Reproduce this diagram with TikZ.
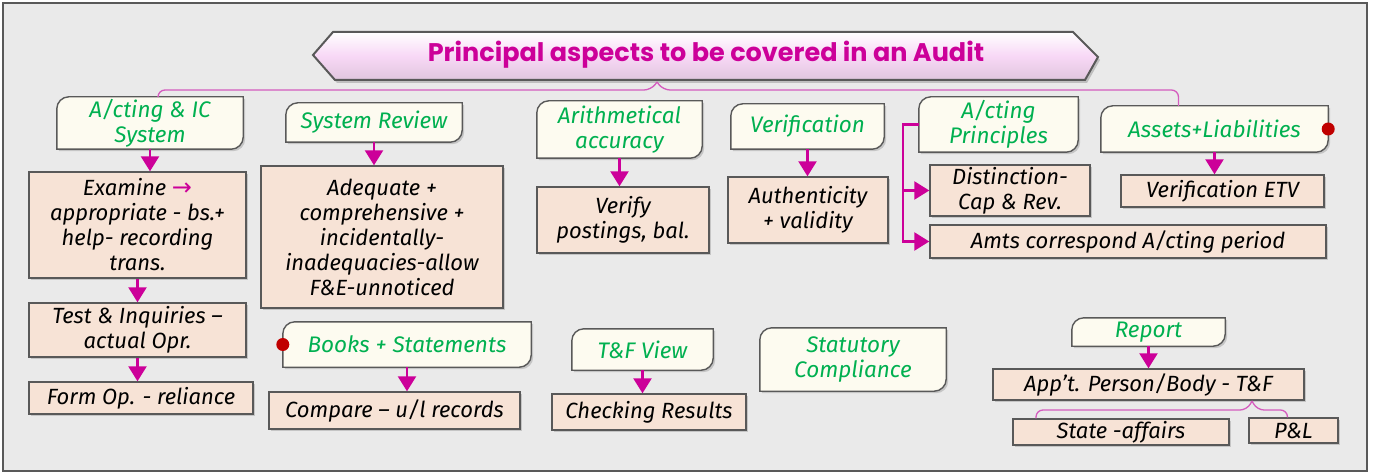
\documentclass[tikz,border=0pt]{standalone}
\usepackage{fontspec}
\setmainfont{Fira Sans}
\newfontfamily\titlefont{Poppins}
\newfontfamily\symfont{DejaVu Sans}
\usepackage{tikz}
\usetikzlibrary{arrows.meta, shadows, backgrounds}

\definecolor{mag}{HTML}{CC0099}
\definecolor{bracecol}{HTML}{D45CBE}
\definecolor{headgreen}{HTML}{00B050}
\definecolor{headfill}{HTML}{FDFBF0}
\definecolor{cfill}{HTML}{F7E3D6}
\definecolor{edge}{HTML}{595959}
\definecolor{bgcol}{HTML}{EAEAEA}
\definecolor{dotred}{HTML}{C00000}
\definecolor{titlepink}{HTML}{F8D8F6}

% frame of a header box: round top-left and bottom-right corners
\newcommand{\hframe}[1]{%
\draw[hline] (#1.south west) -- ([yshift=-12pt]#1.north west)
  arc[start angle=180, end angle=90, radius=12pt] -- (#1.north east)
  -- ([yshift=12pt]#1.south east)
  arc[start angle=0, end angle=-90, radius=12pt] -- cycle;}

\begin{document}
\begin{tikzpicture}[x=1pt, y=1pt,
  hbox/.style={inner sep=0pt, align=center, text=headgreen,
    font=\fontsize{22.5}{25}\selectfont\itshape},
  hline/.style={draw=edge, line width=1.4pt, fill=headfill,
    drop shadow={shadow xshift=2pt, shadow yshift=-2pt, opacity=.35}},
  cbox/.style={draw=edge, line width=1.4pt, fill=cfill, inner sep=0pt,
    align=center, font=\fontsize{22}{25}\selectfont\itshape,
    drop shadow={shadow xshift=2pt, shadow yshift=-2pt, opacity=.35}},
  arr/.style={draw=mag, line width=2.4pt, -{Triangle[width=18pt, length=15pt]}},
  brace/.style={draw=bracecol, line width=1.3pt, rounded corners=7pt},
  reddot/.style={circle, fill=dotred, inner sep=0pt, minimum size=13pt}]
\useasboundingbox (0,0) rectangle (1374,-473);

\begin{scope}[on background layer]
\fill[white] (0,0) rectangle (1374,-473);
\draw[edge, line width=1.5pt, fill=bgcol] (3,-3) rectangle (1367,-471);
\end{scope}

% title
\draw[edge, line width=2pt, top color=white, bottom color=titlepink!80!gray,
  middle color=titlepink,
  drop shadow={shadow xshift=2pt, shadow yshift=-3pt, opacity=.4}]
  (333,-32) -- (1073,-32) -- (1098,-57) -- (1085,-80) -- (335,-80) -- (313,-55) -- cycle;
\node[text=mag, font=\titlefont\bfseries\fontsize{25.5}{28}\selectfont](title) at (706,-55)
  {Principal aspects to be covered in an Audit};

% header boxes
\node[hbox, minimum width=186, minimum height=52](icsys) at (150,-123) {A/cting \& IC\\System};
\node[hbox, minimum width=176, minimum height=39](sysrev) at (374,-122.5) {System Review};
\node[hbox, minimum width=165, minimum height=57](arith) at (619.5,-129.5) {Arithmetical\\accuracy};
\node[hbox, minimum width=153, minimum height=45](verif) at (807.5,-126.5) {Verification};
\node[hbox, minimum width=159, minimum height=55](princ) at (998.5,-124.5) {A/cting\\Principles};
\node[hbox, minimum width=227, minimum height=46](assets) at (1214.5,-129) {Assets+Liabilities};
\node[hbox, minimum width=248, minimum height=45](books) at (407,-344.5) {Books + Statements};
\node[hbox, minimum width=141, minimum height=41](tfview) at (642.5,-349.5) {T\&F View};
\node[hbox, minimum width=186, minimum height=63](statut) at (853,-359.5) {Statutory\\Compliance};
\node[hbox, minimum width=153, minimum height=28](report) at (1148.5,-332) {Report};
\begin{scope}[on background layer]
\hframe{icsys} \hframe{sysrev} \hframe{arith} \hframe{verif} \hframe{princ}
\hframe{assets} \hframe{books} \hframe{tfview} \hframe{statut} \hframe{report}
\end{scope}
\node[reddot](dot1) at (assets.east) {};
\node[reddot](dot2) at (books.west) {};

% content boxes
\node[cbox, minimum width=217, minimum height=106](exam) at (137.5,-225)
  {Examine {\color{mag}\symfont\fontsize{24}{25}\selectfont →}\\appropriate - bs.+\\help- recording\\trans.};
\node[cbox, minimum width=217, minimum height=54](test) at (137.5,-330) {Test \& Inquiries –\\actual Opr.};
\node[cbox, minimum width=224, minimum height=32](form) at (141,-398) {Form Op. - reliance};
\node[cbox, minimum width=242, minimum height=142](adeq) at (382,-237)
  {Adequate +\\comprehensive +\\incidentally-\\inadequacies-allow\\F\&E-unnoticed};
\node[cbox, minimum width=251, minimum height=37](comp) at (394.5,-410.5) {Compare – u/l records};
\node[cbox, minimum width=172, minimum height=66](verify) at (623,-220) {Verify\\postings, bal.};
\node[cbox, minimum width=160, minimum height=66](auth) at (808,-210) {Authenticity\\+ validity};
\node[cbox, minimum width=160, minimum height=51](dist) at (1010,-190.5) {Distinction-\\Cap \& Rev.};
\node[cbox, minimum width=396, minimum height=33](amts) at (1128,-241.5) {Amts correspond A/cting period};
\node[cbox, minimum width=203, minimum height=32](etv) at (1222.5,-191) {Verification ETV};
\node[cbox, minimum width=194, minimum height=36](check) at (649,-412) {Checking Results};
\node[cbox, minimum width=311, minimum height=31](appt) at (1148.5,-384.5) {App’t. Person/Body - T\&F};
\node[cbox, minimum width=216, minimum height=26](state) at (1121,-432) {State -affairs};
\node[cbox, minimum width=89, minimum height=25](pl) at (1293.5,-430.5) {P\&L};

% braces
\coordinate (btip) at (657,-82);
\draw[brace] (btip) -- ++(-6,-8) -| ([xshift=8pt]icsys.north);
\draw[brace] (btip) -- ++(6,-8) -| ([xshift=-36pt]assets.north);
\coordinate (rtip) at (1252,-401);
\draw[brace] (rtip) -- ++(-5,-9) -| ([xshift=-85pt]state.north);
\draw[brace] (rtip) -- ++(5,-9) -| ([xshift=-6pt]pl.north);

% arrows
\draw[arr] (icsys.south) -- (icsys.south |- exam.north);
\draw[arr] (exam.south) -- (test.north);
\draw[arr] (test.south) -- (test.south |- form.north);
\draw[arr] (sysrev.south) -- (sysrev.south |- adeq.north);
\draw[arr] (arith.south) -- (arith.south |- verify.north);
\draw[arr] (verif.south) -- (verif.south |- auth.north);
\draw[arr] (assets.south) -- (assets.south |- etv.north);
\draw[arr] (books.south) -- (books.south |- comp.north);
\draw[arr] (tfview.south) -- (tfview.south |- check.north);
\draw[arr] (report.south) -- (report.south |- appt.north);
\draw[arr] (princ.west) -- ++(-16,0) |- (dist.west);
\draw[arr] (princ.west) -- ++(-16,0) |- (amts.west);

\end{tikzpicture}
\end{document}
